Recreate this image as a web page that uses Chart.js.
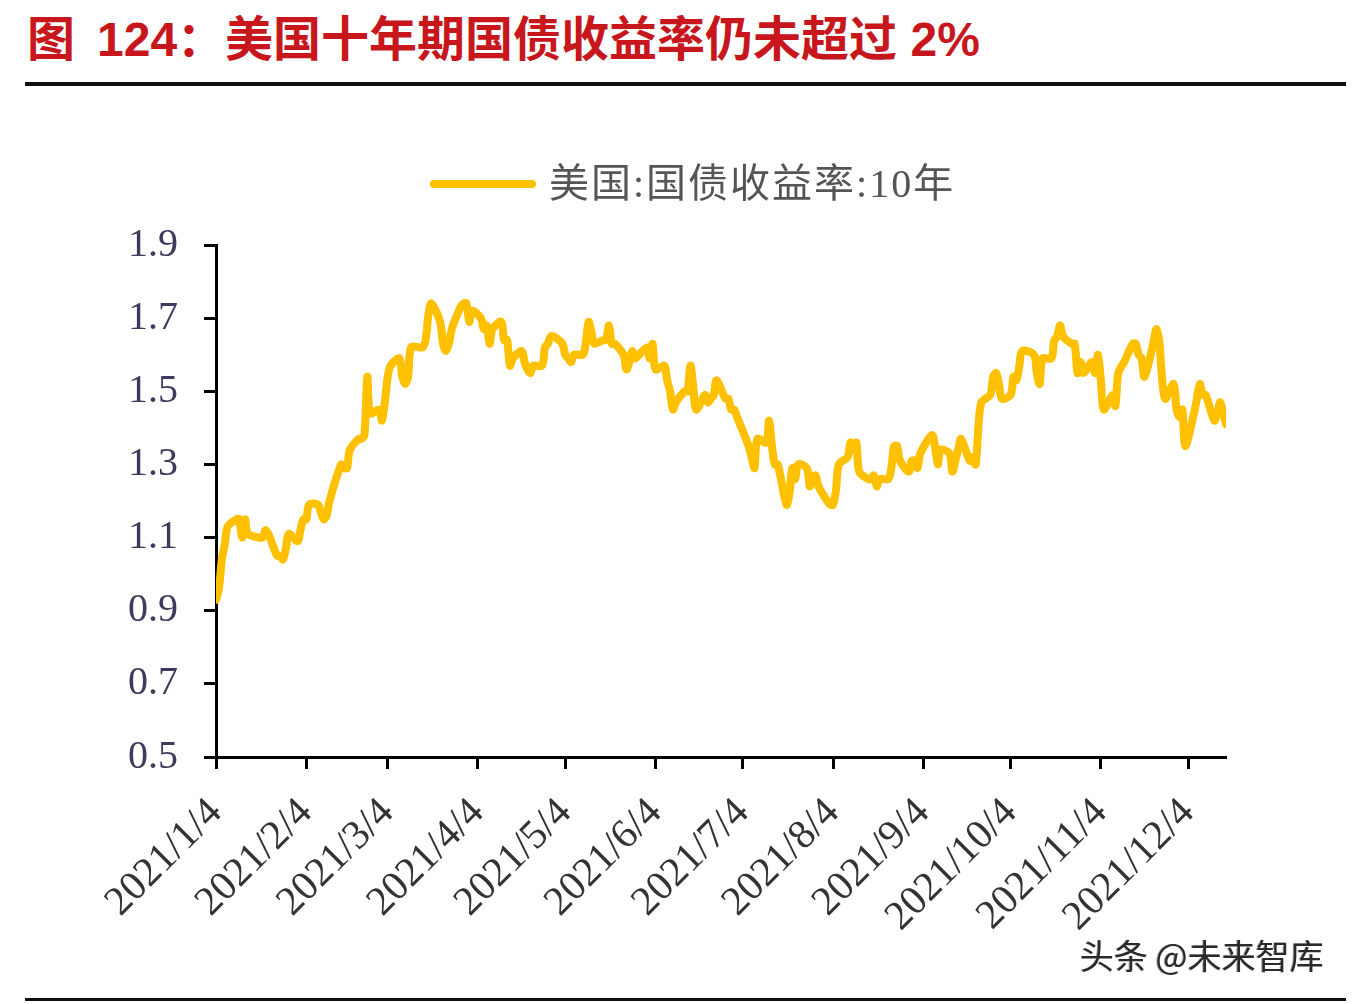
<!DOCTYPE html>
<html lang="zh">
<head>
<meta charset="UTF-8">
<title>美国十年期国债收益率仍未超过 2%</title>
<script src="https://cdn.jsdelivr.net/npm/chart.js"></script>
<style>
    body {
        margin: 0;
        width: 1358px;
        height: 1004px;
        background: #fff;
        position: relative;
        overflow: hidden;
        font-family: "Noto Sans CJK SC", sans-serif;
    }
    .title {
        position: absolute;
        left: 27px;
        top: 14px;
        font-family: "Liberation Sans", "Noto Sans CJK SC", sans-serif;
        font-size: 48px;
        line-height: 52px;
        font-weight: bold;
        color: #c8161d;
        white-space: nowrap;
    }
    .title .num { margin-left: 22px; }
    .rule-top {
        position: absolute; left: 25px; top: 82px;
        width: 1321px; height: 4px; background: #111;
    }
    .rule-bottom {
        position: absolute; left: 25px; top: 998px;
        width: 1321px; height: 3px; background: #111;
    }
    .legend-line {
        position: absolute; left: 430px; top: 180px;
        width: 106px; height: 8px; border-radius: 4px;
        background: #FFC000;
    }
    .legend-text {
        position: absolute; left: 549px; top: 160px;
        font-family: "Liberation Serif", "Noto Sans CJK SC", serif;
        font-size: 40px; line-height: 48px;
        letter-spacing: 2px;
        color: #555;
        white-space: nowrap;
    }
    .mark {
        position: absolute; left: 1080px; top: 934px;
        font-size: 34px; line-height: 42px;
        color: #2a2a2a;
        text-shadow: 1px 1px 0 #fff, -1px 0 0 #999;
        white-space: nowrap;
    }
    #box { position: absolute; left: 0; top: 0; width: 1358px; height: 1004px; }
</style>
</head>
<body>

<div class="title">图<span class="num">124：</span>美国十年期国债收益率仍未超过 2%</div>
<div class="rule-top"></div>
<div id="box"><canvas id="yieldChart" width="1358" height="1004"></canvas></div>
<div class="legend-line"></div>
<div class="legend-text">美国:国债收益率:10年</div>
<div class="mark">头条 @未来智库</div>
<div class="rule-bottom"></div>

<script>
// 交易日 (2021) 与 美国10年期国债收益率 (%)
const dates = [
    '1/4','1/5','1/6','1/7','1/8','1/11','1/12','1/13','1/14','1/15','1/19','1/20','1/21','1/22','1/25','1/26','1/27','1/28','1/29',
    '2/1','2/2','2/3','2/4','2/5','2/8','2/9','2/10','2/11','2/12','2/16','2/17','2/18','2/19','2/22','2/23','2/24','2/25','2/26',
    '3/1','3/2','3/3','3/4','3/5','3/8','3/9','3/10','3/11','3/12','3/15','3/16','3/17','3/18','3/19','3/22','3/23','3/24','3/25','3/26','3/29','3/30','3/31',
    '4/1','4/2','4/5','4/6','4/7','4/8','4/9','4/12','4/13','4/14','4/15','4/16','4/19','4/20','4/21','4/22','4/23','4/26','4/27','4/28','4/29','4/30',
    '5/3','5/4','5/5','5/6','5/7','5/10','5/11','5/12','5/13','5/14','5/17','5/18','5/19','5/20','5/21','5/24','5/25','5/26','5/27','5/28',
    '6/1','6/2','6/3','6/4','6/7','6/8','6/9','6/10','6/11','6/14','6/15','6/16','6/17','6/18','6/21','6/22','6/23','6/24','6/25','6/28','6/29','6/30',
    '7/1','7/2','7/6','7/7','7/8','7/9','7/12','7/13','7/14','7/15','7/16','7/19','7/20','7/21','7/22','7/23','7/26','7/27','7/28','7/29','7/30',
    '8/2','8/3','8/4','8/5','8/6','8/9','8/10','8/11','8/12','8/13','8/16','8/17','8/18','8/19','8/20','8/23','8/24','8/25','8/26','8/27','8/30','8/31',
    '9/1','9/2','9/3','9/7','9/8','9/9','9/10','9/13','9/14','9/15','9/16','9/17','9/20','9/21','9/22','9/23','9/24','9/27','9/28','9/29','9/30',
    '10/1','10/4','10/5','10/6','10/7','10/8','10/12','10/13','10/14','10/15','10/18','10/19','10/20','10/21','10/22','10/25','10/26','10/27','10/28','10/29',
    '11/1','11/2','11/3','11/4','11/5','11/8','11/9','11/10','11/12','11/15','11/16','11/17','11/18','11/19','11/22','11/23','11/24','11/26','11/29','11/30',
    '12/1','12/2','12/3','12/6','12/7','12/8','12/9','12/10','12/13','12/14','12/15','12/16','12/17'
];
const yield10y = [
    0.93,0.96,1.04,1.08,1.13,1.15,1.15,1.10,1.15,1.11,1.10,1.10,1.12,1.11,1.05,1.05,1.04,1.07,1.11,
    1.09,1.12,1.15,1.15,1.19,1.19,1.17,1.15,1.16,1.20,1.30,1.29,1.29,1.34,1.37,1.37,1.38,1.54,1.44,
    1.45,1.42,1.47,1.54,1.57,1.59,1.54,1.52,1.54,1.62,1.62,1.62,1.64,1.71,1.74,1.69,1.63,1.61,1.63,1.67,1.73,1.74,1.74,
    1.69,1.72,1.70,1.67,1.68,1.63,1.67,1.69,1.64,1.64,1.57,1.59,1.61,1.58,1.56,1.55,1.57,1.57,1.62,1.63,1.65,1.65,
    1.63,1.60,1.59,1.58,1.60,1.60,1.63,1.69,1.66,1.63,1.64,1.64,1.68,1.63,1.63,1.60,1.56,1.58,1.61,1.59,
    1.62,1.59,1.63,1.56,1.57,1.53,1.50,1.45,1.47,1.50,1.50,1.57,1.51,1.45,1.49,1.47,1.48,1.49,1.53,1.48,1.48,1.45,
    1.45,1.43,1.35,1.32,1.29,1.37,1.36,1.42,1.35,1.30,1.30,1.19,1.22,1.29,1.26,1.30,1.29,1.24,1.26,1.27,1.24,
    1.20,1.19,1.19,1.23,1.30,1.32,1.36,1.34,1.36,1.28,1.26,1.26,1.27,1.24,1.26,1.26,1.29,1.35,1.35,1.31,1.28,1.31,
    1.31,1.29,1.33,1.38,1.35,1.30,1.34,1.33,1.28,1.31,1.34,1.37,1.31,1.32,1.30,1.41,1.47,1.49,1.54,1.55,1.52,
    1.48,1.49,1.54,1.53,1.57,1.61,1.60,1.55,1.52,1.59,1.59,1.64,1.65,1.68,1.65,1.63,1.63,1.55,1.58,1.55,
    1.58,1.55,1.60,1.53,1.45,1.49,1.46,1.55,1.58,1.63,1.63,1.60,1.59,1.54,1.63,1.67,1.64,1.48,1.52,1.45,
    1.43,1.45,1.35,1.44,1.48,1.52,1.49,1.49,1.42,1.44,1.47,1.44,1.41
];
const tickLabels = ['2021/1/4','2021/2/4','2021/3/4','2021/4/4','2021/5/4','2021/6/4',
                    '2021/7/4','2021/8/4','2021/9/4','2021/10/4','2021/11/4','2021/12/4'];
const yTicks = [0.5, 0.7, 0.9, 1.1, 1.3, 1.5, 1.7, 1.9];

// 以 2021/1/4 为第 0 天
const start = Date.UTC(2021, 0, 4);
function dayOf(m, d) { return (Date.UTC(2021, m - 1, d) - start) / 86400000; }

const points = dates.map((s, i) => {
    const [m, d] = s.split('/').map(Number);
    return { x: dayOf(m, d), y: yield10y[i] };
});
const tickDays = tickLabels.map(s => {
    const p = s.split('/').map(Number);
    return dayOf(p[1], p[2]);
});
const lastDay = points[points.length - 1].x;

const ctx = document.getElementById('yieldChart').getContext('2d');
new Chart(ctx, {
    type: 'line',
    data: {
        datasets: [{
            label: '美国:国债收益率:10年',
            data: points,
            borderColor: '#FFC000',
            borderWidth: 8,
            pointRadius: 0,
            tension: 0.3,
            borderCapStyle: 'round',
            borderJoinStyle: 'round'
        }]
    },
    options: {
        responsive: false,
        animation: false,
        layout: { padding: { top: 245, right: 132, bottom: 0, left: 0 } },
        plugins: {
            legend: { display: false },
            tooltip: { enabled: false }
        },
        scales: {
            x: {
                type: 'linear',
                min: 0,
                max: lastDay,
                afterBuildTicks: s => { s.ticks = tickDays.map(v => ({ value: v })); },
                afterFit: s => { s.height = 1004 - 757; },
                ticks: {
                    autoSkip: false,
                    minRotation: 45,
                    maxRotation: 45,
                    padding: 20,
                    color: '#333',
                    font: { family: 'Liberation Serif', size: 41 },
                    callback: v => tickLabels[tickDays.indexOf(v)]
                },
                grid: { drawOnChartArea: false, tickLength: 12, tickWidth: 3, tickColor: '#000' },
                border: { color: '#000', width: 3 }
            },
            y: {
                min: 0.5,
                max: 1.9,
                afterBuildTicks: s => { s.ticks = yTicks.map(v => ({ value: v })); },
                afterFit: s => { s.width = 216; },
                ticks: {
                    padding: 26,
                    color: '#3d3a5c',
                    font: { family: 'Liberation Serif', size: 40 },
                    callback: v => v.toFixed(1)
                },
                grid: { drawOnChartArea: false, tickLength: 12, tickWidth: 3, tickColor: '#000' },
                border: { color: '#000', width: 3 }
            }
        }
    }
});
</script>

</body>
</html>
